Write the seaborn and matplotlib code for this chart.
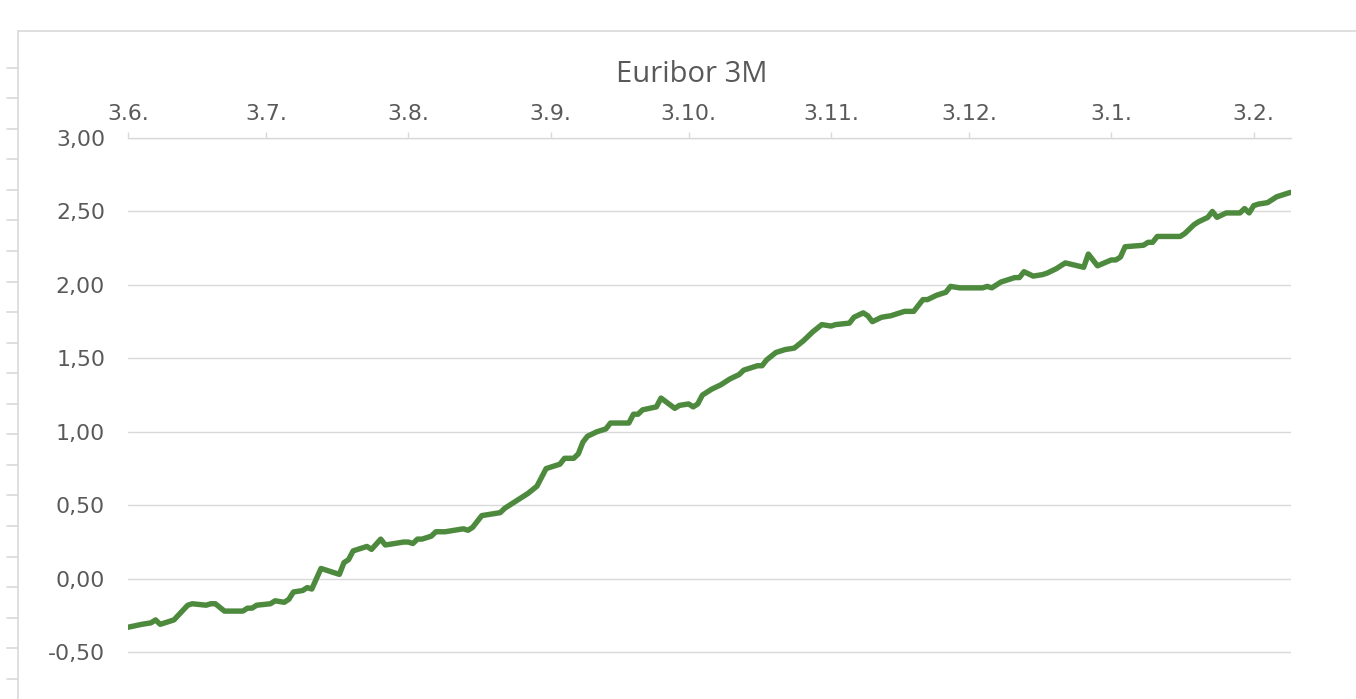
import matplotlib
matplotlib.use("Agg")
import matplotlib.pyplot as plt
from matplotlib.lines import Line2D
import pandas as pd
import seaborn as sns

# Euribor 3M
DATES = [
    "2022-06-03", "2022-06-06", "2022-06-08", "2022-06-09", "2022-06-10", "2022-06-13",
    "2022-06-16", "2022-06-17", "2022-06-20", "2022-06-21", "2022-06-22", "2022-06-24",
    "2022-06-28", "2022-06-29", "2022-06-30", "2022-07-01", "2022-07-04", "2022-07-05",
    "2022-07-07", "2022-07-08", "2022-07-09", "2022-07-11", "2022-07-12", "2022-07-13",
    "2022-07-15", "2022-07-19", "2022-07-20", "2022-07-21", "2022-07-22", "2022-07-25",
    "2022-07-26", "2022-07-28", "2022-07-29", "2022-08-02", "2022-08-03", "2022-08-04",
    "2022-08-05", "2022-08-06", "2022-08-08", "2022-08-09", "2022-08-11", "2022-08-13",
    "2022-08-15", "2022-08-16", "2022-08-17", "2022-08-19", "2022-08-23", "2022-08-24",
    "2022-08-27", "2022-08-29", "2022-08-31", "2022-09-01", "2022-09-02", "2022-09-05",
    "2022-09-06", "2022-09-08", "2022-09-09", "2022-09-10", "2022-09-11", "2022-09-13",
    "2022-09-15", "2022-09-16", "2022-09-20", "2022-09-21", "2022-09-22", "2022-09-23",
    "2022-09-26", "2022-09-27", "2022-09-30", "2022-10-01", "2022-10-03", "2022-10-04",
    "2022-10-05", "2022-10-06", "2022-10-08", "2022-10-10", "2022-10-12", "2022-10-14",
    "2022-10-15", "2022-10-18", "2022-10-19", "2022-10-20", "2022-10-22", "2022-10-24",
    "2022-10-26", "2022-10-28", "2022-10-30", "2022-11-01", "2022-11-03", "2022-11-04",
    "2022-11-07", "2022-11-08", "2022-11-10", "2022-11-11", "2022-11-12", "2022-11-14",
    "2022-11-16", "2022-11-17", "2022-11-19", "2022-11-21", "2022-11-23", "2022-11-24",
    "2022-11-26", "2022-11-28", "2022-11-29", "2022-12-01", "2022-12-06", "2022-12-07",
    "2022-12-08", "2022-12-10", "2022-12-13", "2022-12-14", "2022-12-15", "2022-12-17",
    "2022-12-19", "2022-12-20", "2022-12-22", "2022-12-24", "2022-12-28", "2022-12-29",
    "2022-12-31", "2023-01-03", "2023-01-04", "2023-01-05", "2023-01-06", "2023-01-10",
    "2023-01-11", "2023-01-12", "2023-01-13", "2023-01-18", "2023-01-19", "2023-01-21",
    "2023-01-22", "2023-01-24", "2023-01-25", "2023-01-26", "2023-01-28", "2023-01-31",
    "2023-02-01", "2023-02-02", "2023-02-03", "2023-02-04", "2023-02-06", "2023-02-08",
    "2023-02-09", "2023-02-11",
]
RATES = [
    -0.33, -0.31, -0.30, -0.28, -0.31, -0.28,
    -0.18, -0.17, -0.18, -0.17, -0.17, -0.22,
    -0.22, -0.20, -0.20, -0.18, -0.17, -0.15,
    -0.16, -0.14, -0.09, -0.08, -0.06, -0.07,
    0.07, 0.03, 0.11, 0.13, 0.19, 0.22,
    0.20, 0.27, 0.23, 0.25, 0.25, 0.24,
    0.27, 0.27, 0.29, 0.32, 0.32, 0.33,
    0.34, 0.33, 0.35, 0.43, 0.45, 0.48,
    0.54, 0.58, 0.63, 0.69, 0.75, 0.78,
    0.82, 0.82, 0.85, 0.93, 0.97, 1.00,
    1.02, 1.06, 1.06, 1.12, 1.12, 1.15,
    1.17, 1.23, 1.16, 1.18, 1.19, 1.17,
    1.19, 1.25, 1.29, 1.32, 1.36, 1.39,
    1.42, 1.45, 1.45, 1.49, 1.54, 1.56,
    1.57, 1.62, 1.68, 1.73, 1.72, 1.73,
    1.74, 1.78, 1.81, 1.79, 1.75, 1.78,
    1.79, 1.80, 1.82, 1.82, 1.90, 1.90,
    1.93, 1.95, 1.99, 1.98, 1.98, 1.99,
    1.98, 2.02, 2.05, 2.05, 2.09, 2.06,
    2.07, 2.08, 2.11, 2.15, 2.12, 2.21,
    2.13, 2.17, 2.17, 2.19, 2.26, 2.27,
    2.29, 2.29, 2.33, 2.33, 2.35, 2.41,
    2.43, 2.46, 2.50, 2.46, 2.49, 2.49,
    2.52, 2.49, 2.54, 2.55, 2.56, 2.60,
    2.61, 2.63,
]

TICK_DATES = ["2022-06-03", "2022-07-03", "2022-08-03", "2022-09-03", "2022-10-03",
              "2022-11-03", "2022-12-03", "2023-01-03", "2023-02-03"]
TICK_LABELS = ["3.6.", "3.7.", "3.8.", "3.9.", "3.10.", "3.11.", "3.12.", "3.1.", "3.2."]
Y_TICKS = [-0.5, 0.0, 0.5, 1.0, 1.5, 2.0, 2.5, 3.0]
Y_LABELS = ["-0,50", "0,00", "0,50", "1,00", "1,50", "2,00", "2,50", "3,00"]

TEXT_COLOR = "#595959"
GRID_COLOR = "#d9d9d9"
LINE_COLOR = "#4e8a3e"

W, H = 1356, 699


def main() -> None:
    sns.set_theme(style="white")
    plt.rcParams["font.family"] = ["DejaVu Sans"]

    df = pd.DataFrame({"date": pd.to_datetime(DATES), "rate": RATES})

    fig = plt.figure(figsize=(W / 100, H / 100), dpi=100)
    left, right, top, bottom = 128, 1290.5, 138, 725.7
    ax = fig.add_axes([left / W, 1 - bottom / H, (right - left) / W, (bottom - top) / H])

    sns.lineplot(data=df, x="date", y="rate", ax=ax, color=LINE_COLOR, linewidth=3.9,
                 solid_capstyle="round", solid_joinstyle="round", zorder=3)

    ax.set_xlim(pd.Timestamp("2022-06-03"), pd.Timestamp("2023-02-11"))
    ax.set_ylim(-1.0, 3.0)

    ax.xaxis.tick_top()
    ax.set_xticks(pd.to_datetime(TICK_DATES))
    ax.set_xticklabels(TICK_LABELS)
    ax.set_yticks(Y_TICKS)
    ax.set_yticklabels(Y_LABELS)
    ax.tick_params(axis="x", which="both", top=True, bottom=False, direction="out",
                   length=4.3, width=1.0, color=GRID_COLOR, pad=5.5,
                   labelsize=15.8, labelcolor=TEXT_COLOR)
    ax.tick_params(axis="y", length=0, pad=16.5, labelsize=15.8, labelcolor=TEXT_COLOR)
    ax.set_xlabel("")
    ax.set_ylabel("")

    # gridlines every 0,50 including the off-picture -1,00 line
    ax.grid(axis="y", color=GRID_COLOR, linewidth=1.0)
    ax.grid(axis="x", visible=False)
    for side in ("left", "right", "bottom"):
        ax.spines[side].set_visible(False)
    ax.spines["top"].set_color(GRID_COLOR)
    ax.spines["top"].set_linewidth(1.0)

    fig.text(692 / W, 1 - 74.5 / H, "Euribor 3M", ha="center", va="center",
             fontsize=21, color=TEXT_COLOR, family=["Open Sans", "DejaVu Sans"])

    # outer chart frame and the small marks left of it
    fx, fy = 18 / W, 1 - 31 / H
    fig.add_artist(Line2D([fx, fx], [0, fy], color=GRID_COLOR, linewidth=1.2))
    fig.add_artist(Line2D([fx, 1.0], [fy, fy], color=GRID_COLOR, linewidth=1.2))
    for k in range(21):
        yk = 1 - (67.7 + 30.55 * k) / H
        fig.add_artist(Line2D([7 / W, fx], [yk, yk], color=GRID_COLOR, linewidth=1.2))

    fig.savefig("out.png", dpi=100)
    plt.close(fig)


if __name__ == "__main__":
    main()
